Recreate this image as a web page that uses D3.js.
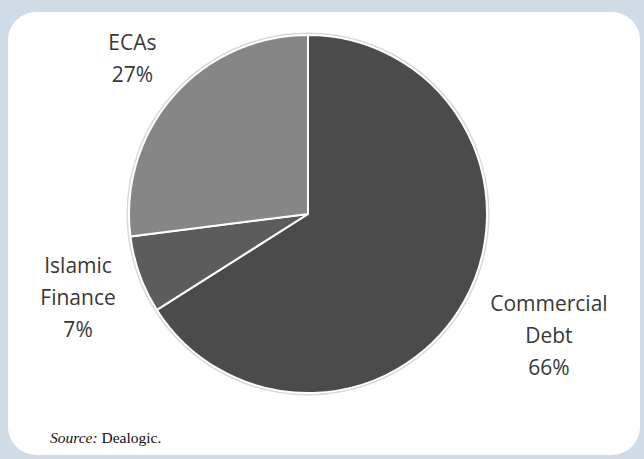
<!DOCTYPE html>
<html>
<head>
<meta charset="utf-8">
<script src="https://cdn.jsdelivr.net/npm/d3@7"></script>
<style>
  body { margin: 0; background: #cddce6; }
  svg { display: block; }
</style>
</head>
<body>
<svg id="chart" width="644" height="459"></svg>
<script>
// data
var categories = ["Commercial Debt", "Islamic Finance", "ECAs"],
    shares = [66, 7, 27],
    labelLines = [["Commercial", "Debt", "66%"], ["Islamic", "Finance", "7%"], ["ECAs", "27%"]],
    sliceColors = ["#4b4b4b", "#5c5c5c", "#868686"];

var svg = d3.select("#chart"),
    width = +svg.attr("width"),
    height = +svg.attr("height"),
    cx = 308,
    cy = 214,
    radius = 179;

// background and white rounded panel
svg.append("rect").attr("width", width).attr("height", height).attr("fill", "#cddce6");
svg.append("rect")
    .attr("x", 8).attr("y", 12)
    .attr("width", 632).attr("height", 443)
    .attr("rx", 28).attr("ry", 28)
    .attr("fill", "#ffffff");

var table = categories.map(function (c, i) {
    return {name: c, value: shares[i], lines: labelLines[i], color: sliceColors[i]};
});

var pie = d3.pie()
    .value(function (d) { return d.value; })
    .sort(null);

var arc = d3.arc().innerRadius(0).outerRadius(radius);

var g = svg.append("g").attr("transform", "translate(" + cx + "," + cy + ")");

//soft rim round the pie
g.append("circle").attr("r", radius + 1.5).attr("fill", "none")
    .attr("stroke", "#d8d8d8").attr("stroke-width", 2);

g.selectAll("path.slice")
    .data(pie(table))
    .enter().append("path")
    .attr("class", "slice")
    .attr("d", arc)
    .attr("fill", function (d) { return d.data.color; })
    .attr("stroke", "#ffffff")
    .attr("stroke-width", 2)
    .attr("stroke-linejoin", "round");

// labels sit outside the pie, placed along each slice's mid angle
var labelArc = d3.arc().innerRadius(radius * 1.3).outerRadius(radius * 1.3);
var labelShift = [[37, 17], [-11, 12], [-1, 6]];

var labels = g.selectAll("text.label")
    .data(pie(table))
    .enter().append("text")
    .attr("class", "label")
    .attr("text-anchor", "middle")
    .attr("fill", "#383838")
    .style("font-family", "'Open Sans', 'DejaVu Sans', sans-serif")
    .style("font-size", "21px")
    .attr("transform", function (d, i) {
        var c = labelArc.centroid(d);
        return "translate(" + (c[0] + labelShift[i][0]) + "," + (c[1] + labelShift[i][1]) + ")";
    });

labels.each(function (d) {
    var t = d3.select(this),
        n = d.data.lines.length;
    d.data.lines.forEach(function (line, k) {
        t.append("tspan")
            .attr("x", 0)
            .attr("y", (k - (n - 1) / 2) * 32)
            .text(line);
    });
});

// source note
var src = svg.append("text")
    .attr("x", 50).attr("y", 443)
    .attr("fill", "#111111")
    .style("font-family", "'Liberation Serif', 'Times New Roman', serif")
    .style("font-size", "15.5px");
src.append("tspan").style("font-style", "italic").text("Source:");
src.append("tspan").text(" Dealogic.");
</script>
</body>
</html>
